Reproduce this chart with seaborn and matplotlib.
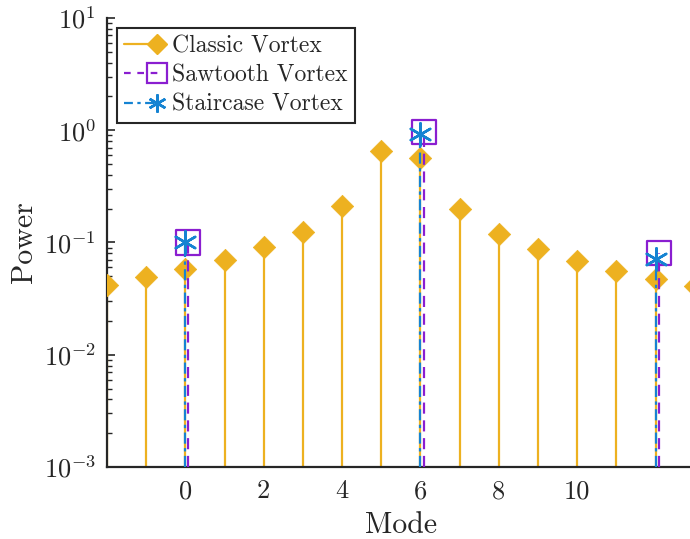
import numpy as np
import pandas as pd
import seaborn as sns
import matplotlib.pyplot as plt
import matplotlib.transforms as mtransforms
from matplotlib.lines import Line2D
from matplotlib.legend_handler import HandlerLine2DCompound

# datos
modos_clasico = [-2, -1, 0, 1, 2, 3, 4, 5, 6, 7, 8, 9, 10, 11, 12, 13]
potencia_clasico = [0.042, 0.049, 0.058, 0.070, 0.091, 0.125, 0.21, 0.66, 0.57,
                    0.20, 0.12, 0.088, 0.069, 0.056, 0.047, 0.041]

modos_diente = [0, 6, 12]
potencia_diente = [0.10, 0.96, 0.081]

modos_escalera = [0, 6, 12]
potencia_escalera = [0.10, 0.93, 0.072]

ticks_x = [0, 2, 4, 6, 8, 10]
base = 1e-3

col_clasico = "#EDB120"
col_diente = "#8A1ED0"
col_escalera = "#1583D2"


# en la leyenda el marcador va al final de la linea (estilo MATLAB)
class MarcadorDerecha(HandlerLine2DCompound):
    def get_xdata(self, legend, xdescent, ydescent, width, height, fontsize):
        xdata = np.array([-xdescent, -xdescent + 0.8 * width])
        return xdata, np.array([-xdescent + 0.78 * width])


sns.set_theme(style="ticks")
plt.rcParams["font.family"] = ["cmr10", "DejaVu Serif"]
plt.rcParams["mathtext.fontset"] = "cm"
plt.rcParams["axes.formatter.use_mathtext"] = True
plt.rcParams["axes.unicode_minus"] = False

df_c = pd.DataFrame({"modo": modos_clasico, "potencia": potencia_clasico})
df_d = pd.DataFrame({"modo": modos_diente, "potencia": potencia_diente})
df_e = pd.DataFrame({"modo": modos_escalera, "potencia": potencia_escalera})

fig = plt.figure(figsize=(6.9, 5.39), dpi=100)
ax = fig.add_axes([0.155, 0.1336, 0.852, 0.833])
ax.set_yscale("log")

# Classic
ax.vlines(df_c["modo"], base, df_c["potencia"], color=col_clasico, lw=1.6, zorder=2)
sns.scatterplot(data=df_c, x="modo", y="potencia", marker="D", s=130,
                color=col_clasico, edgecolor=col_clasico, linewidth=0.5, ax=ax, zorder=3)

# Sawtooth (un poco corrido a la derecha, como en la figura)
desp = mtransforms.offset_copy(ax.transData, fig=fig, x=2.2, y=0, units="points")
ax.vlines(df_d["modo"], base, df_d["potencia"], color=col_diente, lw=1.6,
          linestyles=(0, (5, 3)), transform=desp, zorder=4)
sns.scatterplot(data=df_d, x="modo", y="potencia", marker="s", s=300,
                facecolor="none", edgecolor=col_diente, linewidth=1.6,
                transform=desp, ax=ax, zorder=5)

# Staircase
ax.vlines(df_e["modo"], base, df_e["potencia"], color=col_escalera, lw=1.6,
          linestyles=(0, (5, 2, 1.5, 2)), zorder=6)
sns.scatterplot(data=df_e, x="modo", y="potencia", marker=(6, 2, 0), s=260,
                color=col_escalera, edgecolor=col_escalera, linewidth=1.8, ax=ax, zorder=7)

ax.set_xlim(-2, 13)
ax.set_ylim(1e-3, 1e1)
ax.set_xticks(ticks_x)
ax.set_xticklabels([str(t) for t in ticks_x])
ax.set_yticks([1e-3, 1e-2, 1e-1, 1e0, 1e1])

for s in ["top", "right"]:
    ax.spines[s].set_visible(False)
for s in ["left", "bottom"]:
    ax.spines[s].set_color("#262626")
    ax.spines[s].set_linewidth(1.6)

ax.tick_params(which="both", direction="in", colors="#262626", labelsize=19)
ax.tick_params(which="major", length=6, width=1.2)
ax.tick_params(which="minor", length=3.5, width=1.0)
ax.tick_params(axis="x", pad=9)
ax.tick_params(axis="y", pad=8)

ax.set_xlabel("Mode", fontsize=21.5, color="#262626", labelpad=6)
ax.set_ylabel("Power", fontsize=21.5, color="#262626", labelpad=4)

manijas = [
    Line2D([], [], color=col_clasico, lw=1.6, marker="D", ms=10, label="Classic Vortex"),
    Line2D([], [], color=col_diente, lw=1.6, ls=(0, (3, 3)), marker="s", ms=14,
           markerfacecolor="none", mew=1.6, label="Sawtooth Vortex"),
    Line2D([], [], color=col_escalera, lw=1.6, ls=(0, (4, 2, 1.5, 2)), marker=(6, 2, 0),
           ms=13, mew=1.8, label="Staircase Vortex"),
]
leg = ax.legend(handles=manijas, loc="upper left", bbox_to_anchor=(0.017, 0.977),
                fontsize=17, frameon=True, fancybox=False, framealpha=1,
                handlelength=1.8, handletextpad=0.25, borderpad=0.3, labelspacing=0.3,
                borderaxespad=0, handler_map={Line2D: MarcadorDerecha()})
leg.get_frame().set_edgecolor("#262626")
leg.get_frame().set_linewidth(1.5)

plt.savefig("out.png", dpi=100)
plt.close()
